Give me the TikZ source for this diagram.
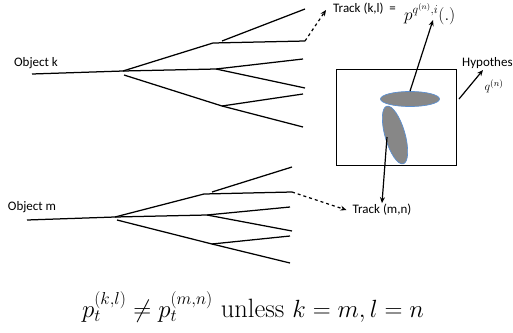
\documentclass[tikz,border=0pt]{standalone}
\usepackage{fontspec}
\newfontfamily\carlito{Carlito}
\usetikzlibrary{arrows.meta,shapes.geometric}
\begin{document}
\begin{tikzpicture}[x=1pt,y=-1pt,
  br/.style={line width=1.25pt},
  lbl/.style={font=\carlito\fontsize{13}{15}\selectfont, inner sep=1pt},
  arr/.style={line width=1.2pt,-{Stealth[length=6pt,width=5pt]}},
  blob/.style={ellipse, fill=black!47, draw={rgb,255:red,91;green,143;blue,208}, line width=0.7pt, inner sep=0pt}]
\useasboundingbox (0,0) rectangle (513,332);
% ---------- tree k ----------
\coordinate (ks) at (32,74);
\coordinate (kr) at (123,71);
\coordinate (kr2) at (124,75);
\coordinate (ka) at (213,43);
\coordinate (ka0) at (222,41);
\coordinate (ka1) at (305,41);
\coordinate (ka2) at (305,9);
\coordinate (kb) at (216,69);
\coordinate (kb1) at (303,59);
\coordinate (kb2) at (305,88);
\coordinate (kc) at (222,106);
\coordinate (kc1) at (303,94);
\coordinate (kc2) at (303,127);
\draw[br] (ks) -- (kr) -- (ka) -- (ka1);
\draw[br] (ka0) -- (ka2);
\draw[br] (kr) -- (kb) -- (kb1);
\draw[br] (kb) -- (kb2);
\draw[br] (kr2) -- (kc) -- (kc1);
\draw[br] (kc) -- (kc2);
% ---------- tree m ----------
\coordinate (ms) at (27,220);
\coordinate (mr) at (115,217);
\coordinate (mr2) at (117,220);
\coordinate (ma) at (204,194);
\coordinate (ma0) at (212,192);
\coordinate (ma1) at (292,192);
\coordinate (ma2) at (292,167);
\coordinate (mb) at (207,215);
\coordinate (mb1) at (290,207);
\coordinate (mb2) at (292,231);
\coordinate (mc) at (212,244);
\coordinate (mc1) at (290,236);
\coordinate (mc2) at (290,263);
\draw[br] (ms) -- (mr) -- (ma) -- (ma1);
\draw[br] (ma0) -- (ma2);
\draw[br] (mr) -- (mb) -- (mb1);
\draw[br] (mb) -- (mb2);
\draw[br] (mr2) -- (mc) -- (mc1);
\draw[br] (mc) -- (mc2);
% ---------- labels ----------
\node[lbl] (objk) at (36,63) {Object k};
\node[lbl] (objm) at (32,207) {Object m};
\node[lbl,anchor=west] (tkl) at (332,9) {Track (k,l)~~=};
\node[anchor=west,inner sep=0pt,font=\fontsize{17}{19}\selectfont] (pq) at (404,14) {$p^{q^{(n)},i}(.)$};
\node[lbl,anchor=west] (hyp) at (461,63) {Hypothes};
\node[inner sep=0pt,font=\fontsize{13}{15}\selectfont] (qn) at (494,86) {$q^{(n)}$};
\node[lbl] (tmn) at (382,210) {Track (m,n)};
% ---------- hypothesis box ----------
\node[draw, line width=0.8pt, minimum width=120, minimum height=96, inner sep=0pt] (box) at (396,117) {};
\node[blob, minimum width=59, minimum height=15] (e1) at (410,99) {};
\node[blob, minimum width=60, minimum height=20, rotate=-74] (e2) at (395,135) {};
% ---------- connectors ----------
\coordinate (tkltip) at (326,10);
\coordinate (pqtip) at (433,20);
\coordinate (e2in) at (387,137);
\coordinate (boxout) at (459,99);
\coordinate (hyptip) at (483,70);
\draw[arr, dashed] (ka1) -- (tkltip);
\draw[arr] (e1.north) -- (pqtip);
\draw[arr] (e2in) -- (tmn.north);
\draw[arr] (boxout) -- (hyptip);
\draw[arr, dashed] (ma1) -- ([xshift=-5pt]tmn.west);
% ---------- formula ----------
\node[inner sep=0pt] (eq) at (253,307) {\fontsize{26.5}{31}\selectfont $p_t^{(k,l)} \neq p_t^{(m,n)}$ unless $k=m, l=n$};
\end{tikzpicture}
\end{document}
